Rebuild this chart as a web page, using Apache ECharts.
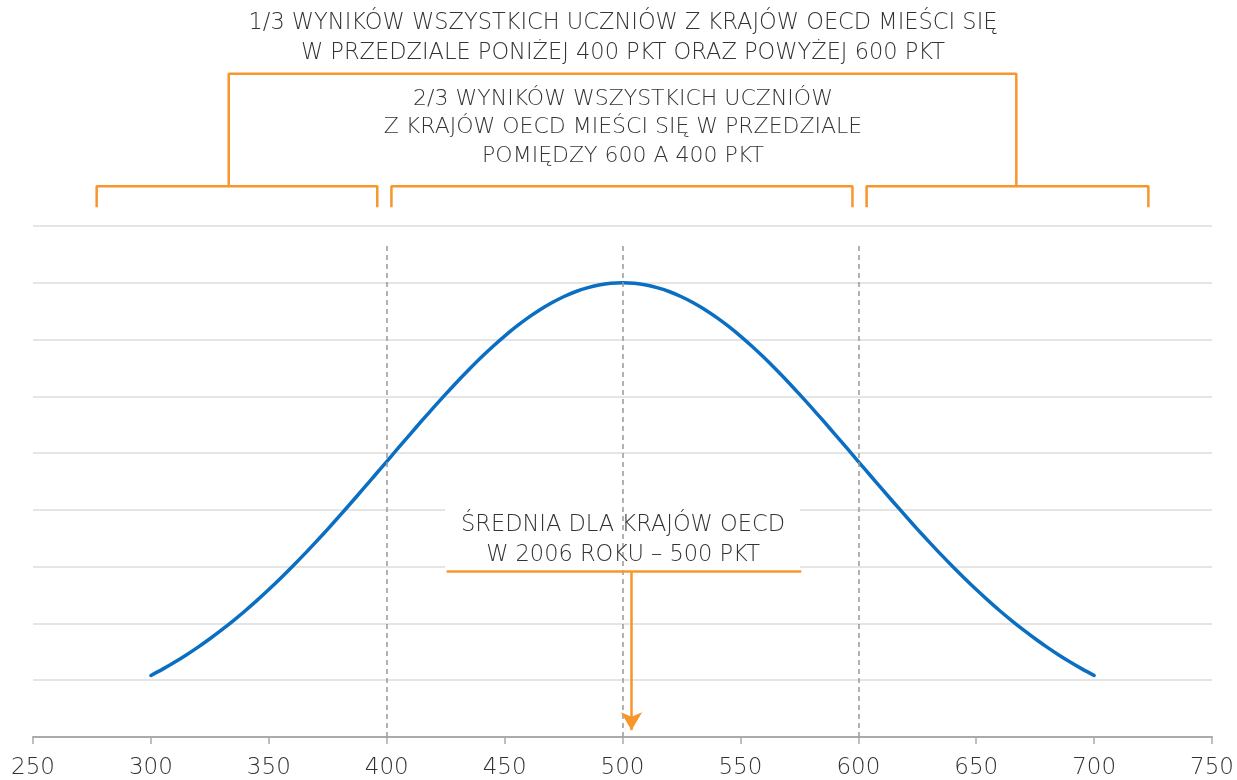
<!DOCTYPE html>
<html><head><meta charset="utf-8">
<script src="https://cdn.jsdelivr.net/npm/echarts@6/dist/echarts.min.js"></script>
<style>html,body{margin:0;padding:0;background:#fff}#c{width:1237px;height:780px}</style>
</head><body><div id="c"></div>
<script>
// scores (x) and curve height (relative density)
const scores = [300,305,310,315,320,325,330,335,340,345,350,355,360,365,370,375,380,385,390,395,
  400,405,410,415,420,425,430,435,440,445,450,455,460,465,470,475,480,485,490,495,500,
  505,510,515,520,525,530,535,540,545,550,555,560,565,570,575,580,585,590,595,
  600,605,610,615,620,625,630,635,640,645,650,655,660,665,670,675,680,685,690,695,700];
const density = [1.083,1.195,1.316,1.445,1.583,1.730,1.886,2.050,2.224,2.407,2.597,2.796,3.003,3.216,3.437,3.662,3.894,4.130,4.369,4.610,
  4.852,5.095,5.336,5.575,5.809,6.038,6.262,6.476,6.683,6.877,7.060,7.230,7.385,7.525,7.648,7.754,7.842,7.910,7.960,7.990,8.000,
  7.990,7.960,7.910,7.842,7.754,7.648,7.525,7.385,7.230,7.060,6.877,6.683,6.476,6.262,6.038,5.809,5.575,5.336,5.095,
  4.852,4.610,4.369,4.130,3.894,3.662,3.437,3.216,3.003,2.796,2.597,2.407,2.224,2.050,1.886,1.730,1.583,1.445,1.316,1.195,1.083];
const xTicks = [250,300,350,400,450,500,550,600,650,700,750];
const refLines = [400,500,600];
const meanScore = 500;
// bracket ranges (score units)
const lowerBrackets = [[277,396],[402,597.5],[603.5,723]];
const upperBracket = [333,667];
const topText = '1/3 WYNIKÓW WSZYSTKICH UCZNIÓW Z KRAJÓW OECD MIEŚCI SIĘ\nW PRZEDZIALE PONIŻEJ 400 PKT ORAZ POWYŻEJ 600 PKT';
const midText = '2/3 WYNIKÓW WSZYSTKICH UCZNIÓW\nZ KRAJÓW OECD MIEŚCI SIĘ W PRZEDZIALE\nPOMIĘDZY 600 A 400 PKT';
const meanText = 'ŚREDNIA DLA KRAJÓW OECD\nW 2006 ROKU – 500 PKT';

const ORANGE = '#F7962B';
const FONT = '"DejaVu Sans"';
const chart = echarts.init(document.getElementById('c'));

const bracketSeries = [];
lowerBrackets.forEach(b => {
  bracketSeries.push({
    type:'line', clip:false, symbol:'none', silent:true,
    lineStyle:{color:ORANGE,width:2.5},
    data:[[b[0],9.33],[b[0],9.70],[b[1],9.70],[b[1],9.33]]
  });
});
bracketSeries.push({
  type:'line', clip:false, symbol:'none', silent:true,
  lineStyle:{color:ORANGE,width:2.5},
  data:[[upperBracket[0],9.70],[upperBracket[0],11.68],[upperBracket[1],11.68],[upperBracket[1],9.70]]
});

chart.setOption({
  animation:false,
  grid:{left:33,right:24,top:226,bottom:41},
  xAxis:{type:'value',min:250,max:750,interval:50,
    axisLine:{lineStyle:{color:'#aaa',width:2}},
    axisTick:{show:true,length:7,lineStyle:{color:'#aaa',width:1.5}},
    axisLabel:{color:'#333',fontSize:23,fontFamily:'DejaVu Sans',fontWeight:200,margin:20,
      formatter:v=>xTicks.includes(v)?String(v):''},
    splitLine:{show:false}},
  yAxis:{type:'value',min:0,max:9,interval:1,
    axisLine:{show:false},axisTick:{show:false},axisLabel:{show:false},
    splitLine:{lineStyle:{color:'#ddd',width:1.5}}},
  series:[
    {type:'line',symbol:'none',smooth:0.3,
      lineStyle:{color:'#0A6FC2',width:3.5,join:'round',cap:'round'},
      data:scores.map((s,i)=>[s,density[i]]),
      markLine:{silent:true,symbol:'none',label:{show:false},
        lineStyle:{color:'#999',type:[5,4],width:1.5},
        data:refLines.map(v=>[{coord:[v,0]},{coord:[v,8.66]}])}
    },
    ...bracketSeries,
    {type:'line',clip:false,symbol:'none',silent:true,data:[],
      markLine:{silent:true,symbol:'none',label:{show:false},animation:false,
        lineStyle:{color:ORANGE,width:2.5,type:'solid'},
        data:[[{coord:[425.4,2.92]},{coord:[575.8,2.92]}]]}},
    {type:'line',clip:false,symbol:'none',silent:true,data:[],
      markLine:{silent:true,symbol:['none','arrow'],symbolSize:[16,18],label:{show:false},
        lineStyle:{color:ORANGE,width:2.5,type:'solid'},
        data:[[{coord:[meanScore+3.8,2.92]},{coord:[meanScore+3.8,0.12]}]]}}
  ],
  graphic:[
    {type:'rect',shape:{x:445,y:504,width:355,height:67},style:{fill:'#fff'},z:5},
    {type:'text',x:623,y:8,z:10,style:{text:topText,fill:'#333',font:'200 22.5px '+FONT,textAlign:'center',lineHeight:30}},
    {type:'text',x:623,y:85,z:10,style:{text:midText,fill:'#333',font:'200 22px '+FONT,textAlign:'center',lineHeight:28.5}},
    {type:'text',x:623,y:510,z:10,style:{text:meanText,fill:'#333',font:'200 22.5px '+FONT,textAlign:'center',lineHeight:30}}
  ]
});
</script></body></html>
